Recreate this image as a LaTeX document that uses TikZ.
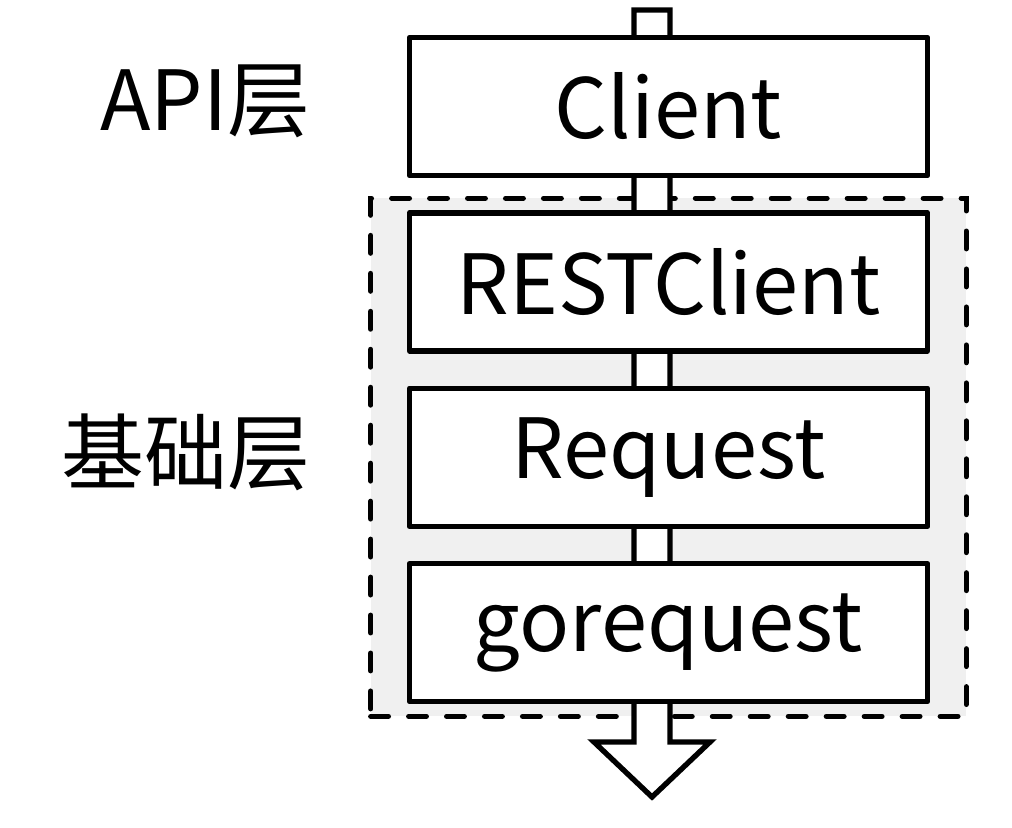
\documentclass[tikz,border=0pt]{standalone}
\usepackage{fontspec}
\setmainfont{Noto Sans CJK SC}
\usepackage{tikz}
\usetikzlibrary{positioning, fit, calc, backgrounds}
\definecolor{groupgray}{RGB}{240,240,240}

\begin{document}
\begin{tikzpicture}[
    x=0.025cm, y=-0.025cm,
    font=\fontsize{59}{66}\selectfont,
    layerbox/.style={rectangle, draw=black, line width=3.8pt, fill=white, line join=round,
                     minimum width=12.95cm, minimum height=3.45cm, inner sep=0pt},
    layerlabel/.style={inner sep=0pt, yshift=0.12cm},
    groupbox/.style={draw=black, line width=3.8pt, dash pattern=on 12.5pt off 14.5pt,
                     line cap=round, fill=groupgray, inner xsep=0.9cm, inner ysep=0.3cm},
    flowarrow/.style={draw=black, line width=3.8pt, fill=white}
]
\useasboundingbox (0,0) rectangle (1012,828);

% Layers
\node[layerbox] (client) at (668.5,106.5) {Client};
\node[layerbox, below=0.8cm of client] (rest) {RESTClient};
\node[layerbox, below=0.8cm of rest] (req) {Request};
\node[layerbox, below=0.8cm of req] (gore) {gorequest};

% Layer names
\node[layerlabel, left=2.4cm of client] (apilabel) {API层};
\node[layerlabel, left=2.4cm of req] (baselabel) {基础层};

% Call direction
\coordinate (top) at (652,10);
\coordinate (tip) at (652,797);

\begin{scope}[on background layer]
\node[groupbox, fit=(rest)(gore)] (base) {};
\draw[flowarrow] ($(top)+(-18,0)$) -- ($(tip)+(-18,-55)$) -- ($(tip)+(-58,-55)$)
    -- (tip) -- ($(tip)+(58,-55)$) -- ($(tip)+(18,-55)$) -- ($(top)+(18,0)$) -- cycle;
\end{scope}

\end{tikzpicture}
\end{document}
